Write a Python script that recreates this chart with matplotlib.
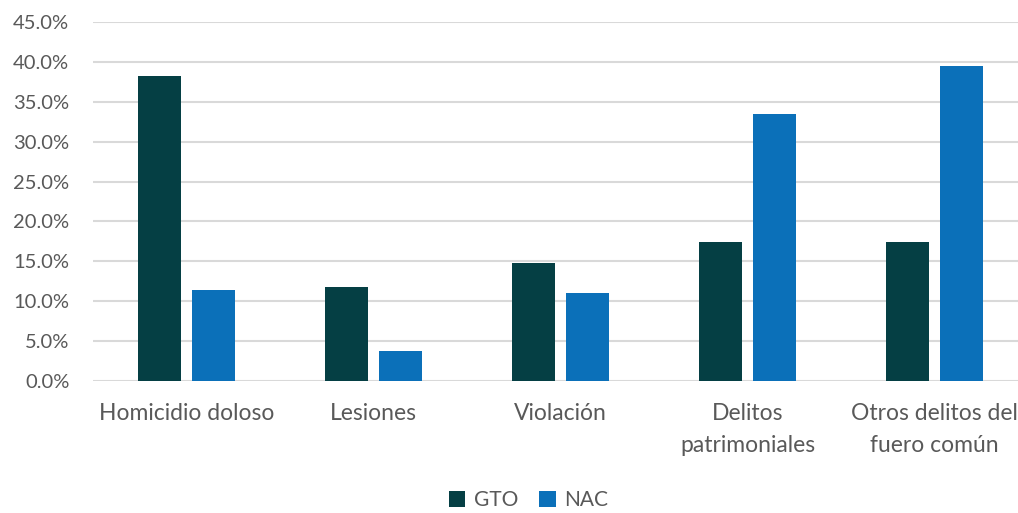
import matplotlib.pyplot as plt
import numpy as np

categorias = ['Homicidio doloso', 'Lesiones', 'Violación',
              'Delitos\npatrimoniales', 'Otros delitos del\nfuero común']
gto = [38.2, 11.8, 14.8, 17.4, 17.4]
nac = [11.4, 3.8, 11.0, 33.5, 39.5]
yticks = np.arange(0, 46, 5)

c_gto = '#053F44'
c_nac = '#0B70B9'
c_txt = '#595959'

plt.rcParams['font.family'] = ['Lato', 'DejaVu Sans']

fig = plt.figure(figsize=(10.18, 5.13), dpi=100)
ax = fig.add_axes([93/1018, 132/513, 935/1018, 359/513])

x = np.arange(len(categorias))
w = 0.23
ax.bar(x - 0.144, gto, w, color=c_gto, label='GTO', zorder=3)
ax.bar(x + 0.144, nac, w, color=c_nac, label='NAC', zorder=3)

ax.set_xlim(-0.5, len(categorias) - 0.5)
ax.set_ylim(0, 45)
ax.set_yticks(yticks)
ax.set_yticklabels([f'{v:.1f}%' for v in yticks], fontsize=14.5,
                   color=c_txt)
ax.set_xticks(x)
ax.set_xticklabels(categorias, fontsize=16.5, color=c_txt,
                   linespacing=1.65, va='top')
ax.tick_params(axis='both', length=0)
ax.tick_params(axis='x', pad=16)
ax.tick_params(axis='y', pad=17)

ax.grid(axis='y', color='#D9D9D9', linewidth=1.5, zorder=0)
for s in ['top', 'right', 'left', 'bottom']:
    ax.spines[s].set_visible(False)

leg = fig.legend(loc='center', bbox_to_anchor=(0.519, 0.025), ncol=2,
                 frameon=False, handlelength=0.8, handleheight=0.8,
                 handletextpad=0.4, columnspacing=1.0,
                 prop={'size': 15})
for t in leg.get_texts():
    t.set_color(c_txt)

fig.savefig('out.png', dpi=100)
